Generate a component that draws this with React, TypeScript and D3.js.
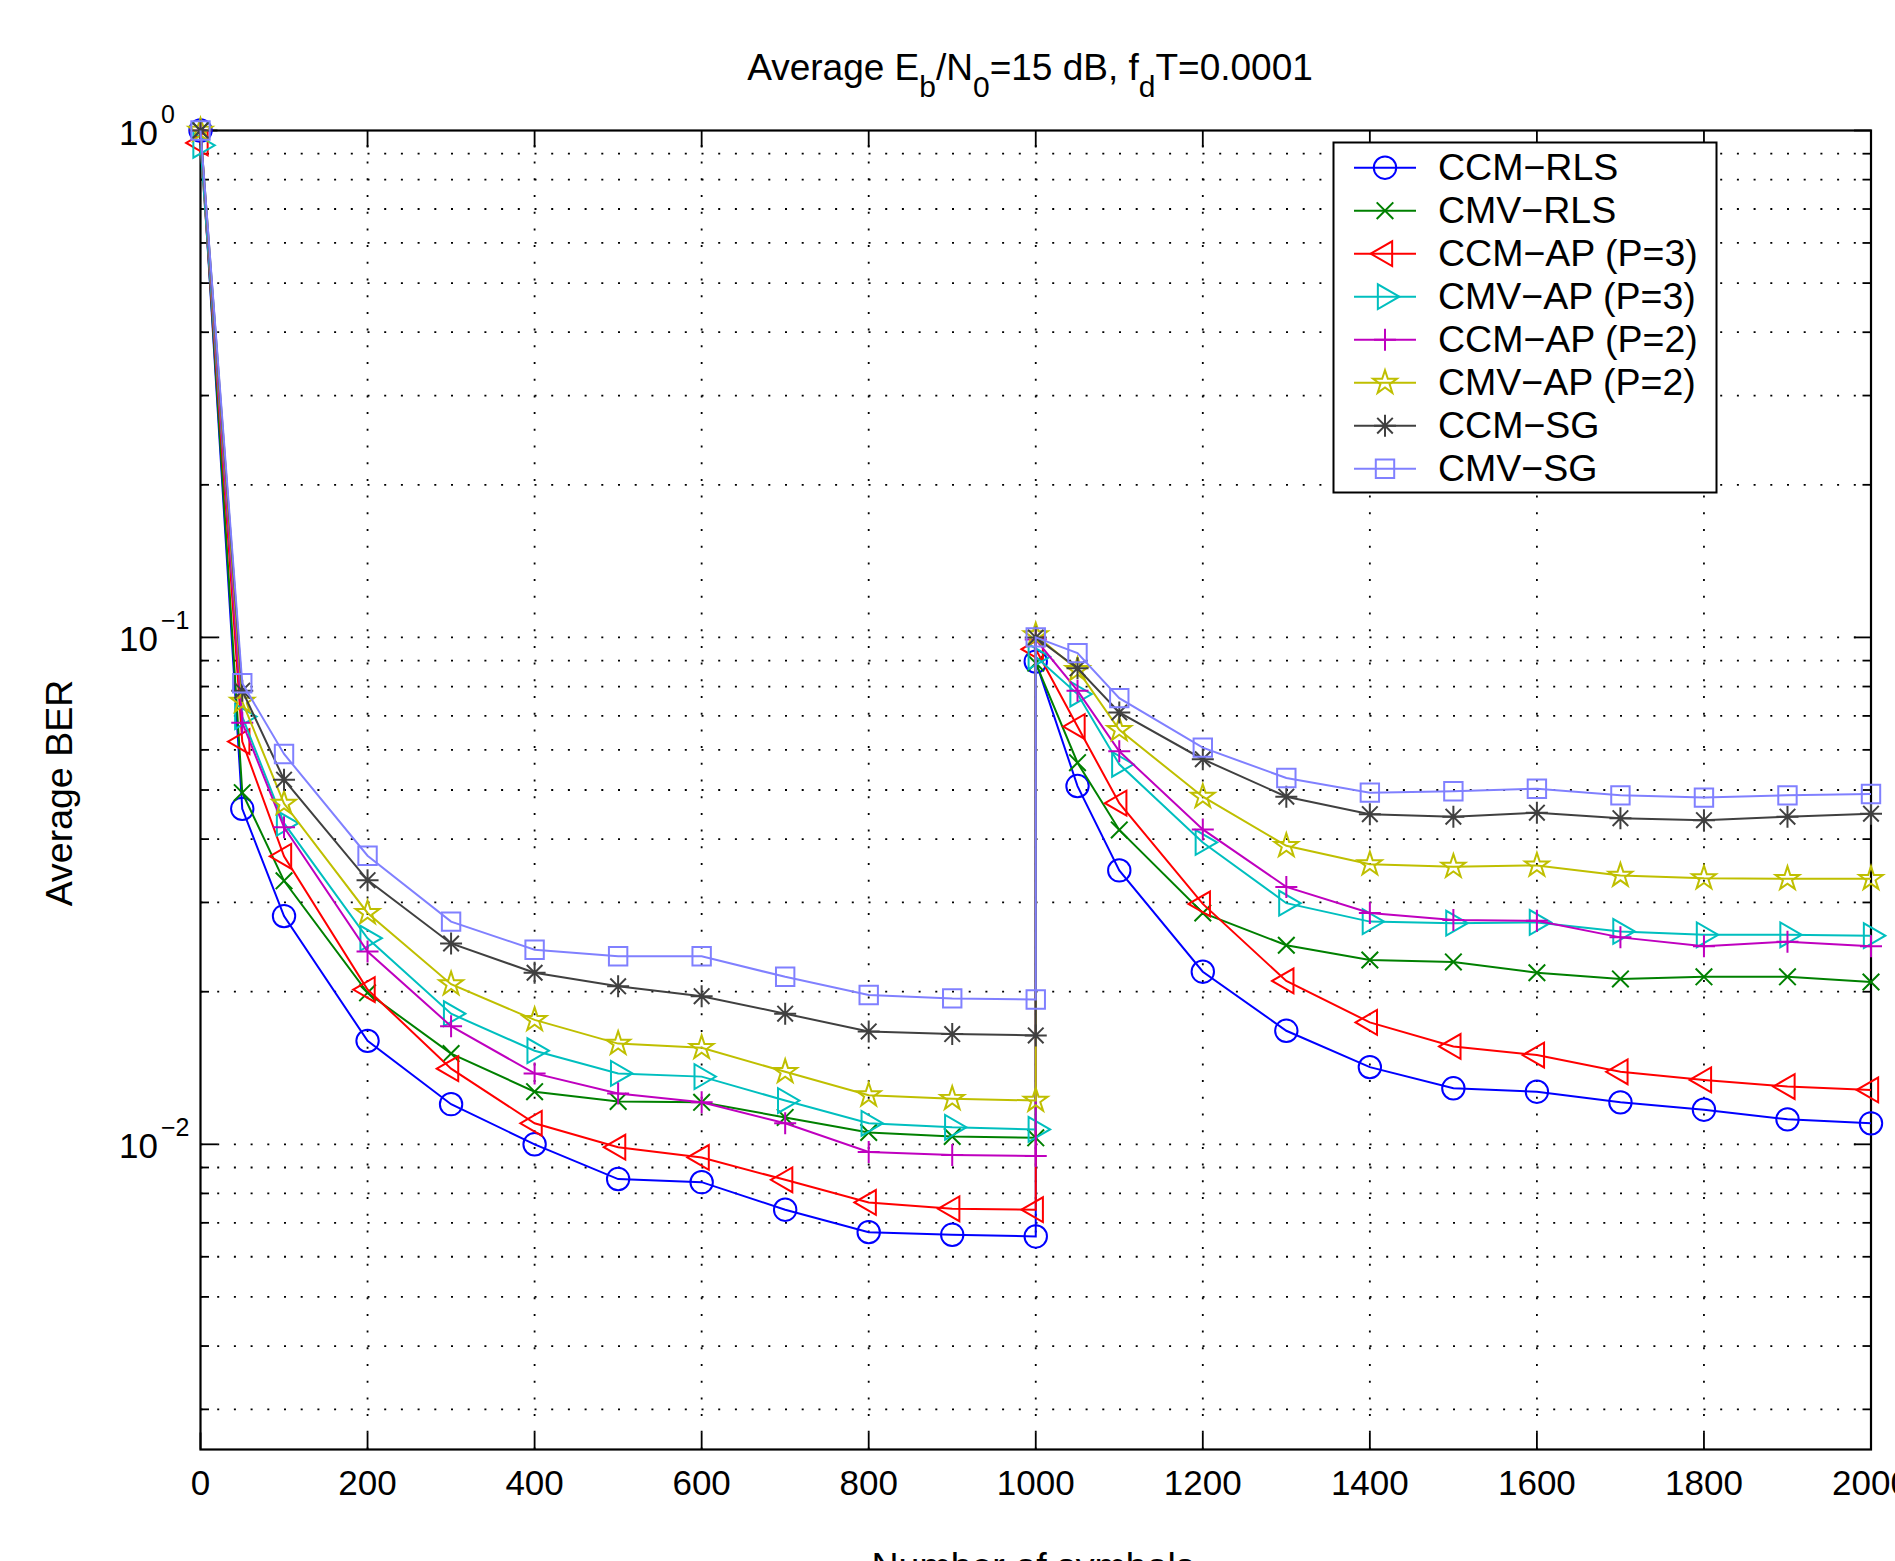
import * as React from 'react';
import * as d3 from 'd3';

// number of symbols: first block 0..1000, then the channel change at 1000 and a second block
const symbols = [0, 50, 100, 200, 300, 400, 500, 600, 700, 800, 900, 1000,
  1000, 1050, 1100, 1200, 1300, 1400, 1500, 1600, 1700, 1800, 1900, 2000];

const ccmRls = [1.0, 0.0459, 0.0282, 0.0160, 0.0120, 0.0100, 0.00854, 0.00842, 0.00743, 0.00671, 0.00663, 0.00658,
  0.0896, 0.0509, 0.0347, 0.0219, 0.01675, 0.0142, 0.0129, 0.0127, 0.0121, 0.0117, 0.0112, 0.0110];
const cmvRls = [1.0, 0.0494, 0.0331, 0.0199, 0.0151, 0.0127, 0.01215, 0.0121, 0.0113, 0.01055, 0.01036, 0.0103,
  0.0890, 0.0566, 0.0417, 0.0286, 0.0247, 0.0231, 0.0229, 0.0218, 0.0212, 0.0214, 0.0214, 0.0209];
const ccmAp3 = [0.945, 0.0623, 0.0370, 0.0202, 0.0141, 0.0110, 0.00987, 0.00942, 0.00851, 0.00768, 0.00746, 0.00743,
  0.0948, 0.0667, 0.0471, 0.0298, 0.0210, 0.0174, 0.0156, 0.0150, 0.0139, 0.0134, 0.0130, 0.0128];
const cmvAp3 = [0.935, 0.0698, 0.0430, 0.0255, 0.0181, 0.0153, 0.0138, 0.0136, 0.0122, 0.0110, 0.0108, 0.0107,
  0.0916, 0.0773, 0.0562, 0.0394, 0.0299, 0.0275, 0.0273, 0.0274, 0.0263, 0.0259, 0.0259, 0.0258];
const ccmAp2 = [1.0, 0.0679, 0.0422, 0.0240, 0.0171, 0.0138, 0.0126, 0.0121, 0.0110, 0.00966, 0.00953, 0.00948,
  0.099, 0.0785, 0.0596, 0.0418, 0.0322, 0.0286, 0.0277, 0.0276, 0.0256, 0.0246, 0.0251, 0.0246];
const cmvAp2 = [1.0, 0.0747, 0.0470, 0.0286, 0.0207, 0.0176, 0.0158, 0.0155, 0.0139, 0.0125, 0.0123, 0.0122,
  0.101, 0.0863, 0.0657, 0.0485, 0.0388, 0.0357, 0.0353, 0.0355, 0.0339, 0.0335, 0.0334, 0.0334];
const ccmSg = [1.0, 0.0785, 0.0524, 0.0332, 0.0249, 0.0218, 0.0205, 0.0196, 0.0181, 0.0167, 0.0165, 0.0164,
  0.100, 0.0869, 0.0711, 0.0575, 0.0485, 0.0448, 0.0443, 0.0451, 0.0440, 0.0436, 0.0443, 0.0449];
const cmvSg = [1.0, 0.0812, 0.0589, 0.0371, 0.0275, 0.0242, 0.0235, 0.0235, 0.0214, 0.0197, 0.0194, 0.0193,
  0.100, 0.0931, 0.0759, 0.0606, 0.0528, 0.0494, 0.0497, 0.0503, 0.0488, 0.0483, 0.0488, 0.0491];

const seriesValues = [ccmRls, cmvRls, ccmAp3, cmvAp3, ccmAp2, cmvAp2, ccmSg, cmvSg];
const seriesNames = ['CCM−RLS', 'CMV−RLS', 'CCM−AP (P=3)', 'CMV−AP (P=3)', 'CCM−AP (P=2)', 'CMV−AP (P=2)', 'CCM−SG', 'CMV−SG'];
const seriesColors = ['#0000ff', '#008000', '#ff0000', '#00bfbf', '#bf00bf', '#bfbf00', '#404040', '#8080ff'];
const seriesMarkers = ['o', 'x', '<', '>', '+', 'p', '*', 's'];

const xTicks = [0, 200, 400, 600, 800, 1000, 1200, 1400, 1600, 1800, 2000];
const yMajor = [0.01, 0.1, 1];
const yExponents = ['−2', '−1', '0'];

const FONT = '"Liberation Sans", Arial, Helvetica, sans-serif';

function markerPath(kind: string): string {
  switch (kind) {
    case 'o':
      return d3.symbol(d3.symbolCircle, Math.PI * 11.2 * 11.2)() as string;
    case 'x':
      return 'M-8.3,-8.3L8.3,8.3M-8.3,8.3L8.3,-8.3';
    case '+':
      return 'M-11,0H11M0,-11V11';
    case '*':
      return 'M-11,0H11M0,-11V11M-7.8,-7.8L7.8,7.8M-7.8,7.8L7.8,-7.8';
    case 's':
      return 'M-9.2,-9.2H9.2V9.2H-9.2Z';
    case '<':
      return 'M-14.3,0L7.15,-12.4L7.15,12.4Z';
    case '>':
      return 'M14.3,0L-7.15,-12.4L-7.15,12.4Z';
    case 'p': {
      const pts: string[] = [];
      for (let k = 0; k < 10; k++) {
        const r = k % 2 === 0 ? 12.5 : 4.8;
        const a = -Math.PI / 2 + (k * Math.PI) / 5;
        pts.push(`${(r * Math.cos(a)).toFixed(2)},${(r * Math.sin(a)).toFixed(2)}`);
      }
      return 'M' + pts.join('L') + 'Z';
    }
    default:
      return '';
  }
}

export default function App() {
  const ref = React.useRef<SVGSVGElement>(null);

  React.useEffect(() => {
    const svg = d3.select(ref.current);
    svg.selectAll('*').remove();

    const left = 200.5, right = 1871, top = 130.5, bottom = 1449.5;
    const x = d3.scaleLinear().domain([0, 2000]).range([left, right]);
    const y = d3.scaleLog().domain([0.0025, 1]).range([bottom, top]);
    const yAll = y.ticks();
    const isMajor = (v: number) => yMajor.some(m => Math.abs(m - v) / m < 1e-6);

    svg.append('rect').attr('width', 1895).attr('height', 1561).attr('fill', '#fff');

    // grid
    const grid = svg.append('g').attr('stroke', '#000').attr('stroke-width', 1.8)
      .attr('stroke-dasharray', '2 14.7').attr('fill', 'none');
    xTicks.filter(t => t > 0 && t < 2000).forEach(t => {
      grid.append('line').attr('x1', x(t)).attr('x2', x(t)).attr('y1', bottom).attr('y2', top);
    });
    yAll.filter(v => v < 1).forEach(v => {
      grid.append('line').attr('x1', left).attr('x2', right).attr('y1', y(v)).attr('y2', y(v));
    });

    // ticks
    const ticks = svg.append('g').attr('stroke', '#000').attr('stroke-width', 1.8);
    xTicks.forEach(t => {
      ticks.append('line').attr('x1', x(t)).attr('x2', x(t)).attr('y1', bottom).attr('y2', bottom - 17);
      ticks.append('line').attr('x1', x(t)).attr('x2', x(t)).attr('y1', top).attr('y2', top + 17);
    });
    yAll.forEach(v => {
      const len = isMajor(v) ? 17 : 8.5;
      ticks.append('line').attr('x1', left).attr('x2', left + len).attr('y1', y(v)).attr('y2', y(v));
      ticks.append('line').attr('x1', right).attr('x2', right - len).attr('y1', y(v)).attr('y2', y(v));
    });

    // axes box
    svg.append('rect').attr('x', left).attr('y', top).attr('width', right - left).attr('height', bottom - top)
      .attr('fill', 'none').attr('stroke', '#000').attr('stroke-width', 2.2);

    // tick labels
    const labels = svg.append('g').attr('font-family', FONT).attr('fill', '#000');
    xTicks.forEach(t => {
      labels.append('text').attr('x', x(t)).attr('y', 1495).attr('text-anchor', 'middle')
        .attr('font-size', 35).text(String(t));
    });
    yMajor.forEach((v, i) => {
      const t = labels.append('text').attr('x', 119).attr('y', y(v) + 14).attr('font-size', 35);
      t.append('tspan').text('10');
      t.append('tspan').attr('dy', -22).attr('dx', 3).attr('font-size', 25).text(yExponents[i]);
    });

    // title
    const title = svg.append('text').attr('x', 1030).attr('y', 80).attr('text-anchor', 'middle')
      .attr('font-family', FONT).attr('font-size', 37);
    const parts: [string, boolean][] = [['Average E', false], ['b', true], ['/N', false], ['0', true],
      ['=15 dB, f', false], ['d', true], ['T=0.0001', false]];
    parts.forEach(([s, sub]) => {
      title.append('tspan').attr('dy', sub ? 17 : 0).attr('font-size', sub ? 30 : 37).text(s)
        .each(function () { if (!sub) d3.select(this).attr('dy', s === 'Average E' ? 0 : -17); });
    });

    // axis labels
    svg.append('text').attr('transform', 'translate(72,793) rotate(-90)').attr('text-anchor', 'middle')
      .attr('font-family', FONT).attr('font-size', 37.5).text('Average BER');
    svg.append('text').attr('x', 1033).attr('y', 1579).attr('text-anchor', 'middle')
      .attr('font-family', FONT).attr('font-size', 37.5).text('Number of symbols');

    // data
    const line = d3.line<number>().x((d, i) => x(symbols[i])).y(d => y(d));
    seriesValues.forEach((vals, s) => {
      const g = svg.append('g');
      g.append('path').attr('d', line(vals)).attr('fill', 'none')
        .attr('stroke', seriesColors[s]).attr('stroke-width', 2);
      const mp = markerPath(seriesMarkers[s]);
      vals.forEach((v, i) => {
        g.append('path').attr('d', mp).attr('transform', `translate(${x(symbols[i])},${y(v)})`)
          .attr('fill', 'none').attr('stroke', seriesColors[s]).attr('stroke-width', 2);
      });
    });

    // legend
    const lg = svg.append('g');
    lg.append('rect').attr('x', 1333.5).attr('y', 142.5).attr('width', 383).attr('height', 350)
      .attr('fill', '#fff').attr('stroke', '#000').attr('stroke-width', 2);
    seriesNames.forEach((name, s) => {
      const ry = 167.7 + s * 43;
      lg.append('line').attr('x1', 1354).attr('x2', 1416).attr('y1', ry).attr('y2', ry)
        .attr('stroke', seriesColors[s]).attr('stroke-width', 2);
      lg.append('path').attr('d', markerPath(seriesMarkers[s])).attr('transform', `translate(1385,${ry})`)
        .attr('fill', 'none').attr('stroke', seriesColors[s]).attr('stroke-width', 2);
      lg.append('text').attr('x', 1438).attr('y', ry + 12.5).attr('font-family', FONT)
        .attr('font-size', 37.5).text(name);
    });
  }, []);

  return (
    <div style={{ position: 'absolute', left: 0, top: 0 }}>
      <svg ref={ref} width={1895} height={1561} style={{ display: 'block' }}></svg>
    </div>
  );
}
